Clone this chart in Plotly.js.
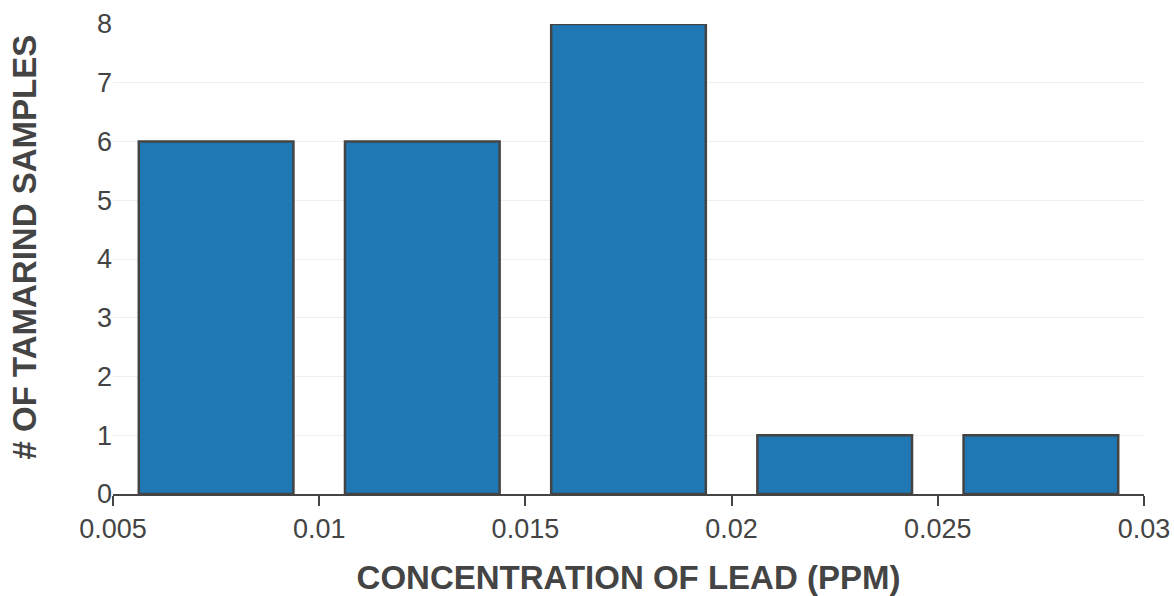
<!DOCTYPE html>
<html>
<head>
<meta charset="utf-8">
<script src="https://cdn.plot.ly/plotly-3.0.1.min.js"></script>
<style>html,body{margin:0;padding:0;background:#fff;}#chart{width:1174px;height:596px;}</style>
</head>
<body>
<div id="chart"></div>
<script>
const binCenters = [0.0075, 0.0125, 0.0175, 0.0225, 0.0275];
const sampleCounts = [6, 6, 8, 1, 1];
const xTitle = "CONCENTRATION OF LEAD (PPM)";
const yTitle = "# OF TAMARIND SAMPLES";

const data = [{
  type: 'bar',
  x: binCenters,
  y: sampleCounts,
  marker: {color: '#1f77b4', line: {color: '#444444', width: 2.5}},
  hoverinfo: 'x+y'
}];

const layout = {
  width: 1174, height: 596,
  margin: {l: 113, r: 30, t: 24, b: 102},
  paper_bgcolor: '#fff', plot_bgcolor: '#fff',
  bargap: 0.25,
  font: {family: 'Liberation Sans, Arial, sans-serif', color: '#444'},
  showlegend: false,
  xaxis: {
    range: [0.005, 0.03],
    dtick: 0.005, tick0: 0.005,
    showgrid: false, zeroline: false,
    showline: true, linecolor: '#444', linewidth: 2,
    ticks: 'outside', ticklen: 10, tickwidth: 2, tickcolor: '#444',
    tickfont: {size: 27, color: '#444'},
    title: {text: xTitle, font: {size: 33, color: '#444', weight: 'bold'}, standoff: 22}
  },
  yaxis: {
    range: [0, 8],
    dtick: 1,
    showgrid: true, gridcolor: '#eeeeee', gridwidth: 1,
    zeroline: false, showline: false, ticks: '',
    tickfont: {size: 27, color: '#444'}
  },
  annotations: [{
    text: yTitle, textangle: -90,
    xref: 'paper', yref: 'paper',
    x: -0.0863, y: 0.5245,
    xanchor: 'center', yanchor: 'middle',
    showarrow: false,
    font: {size: 33, color: '#444', weight: 'bold'}
  }]
};

Plotly.newPlot('chart', data, layout, {displayModeBar: false, staticPlot: true});
</script>
</body>
</html>
